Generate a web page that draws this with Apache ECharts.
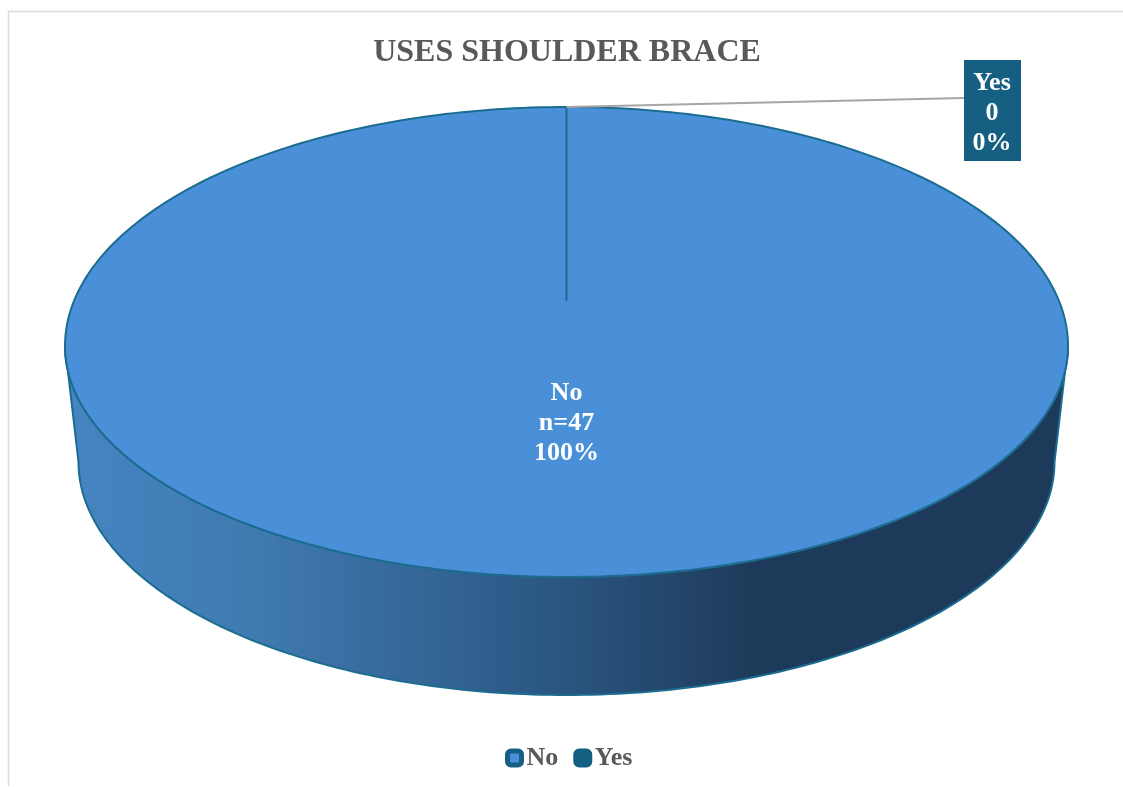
<!DOCTYPE html>
<html>
<head>
<meta charset="utf-8">
<style>html,body{margin:0;padding:0;background:#fff}#c{width:1123px;height:787px}</style>
<script src="https://cdn.jsdelivr.net/npm/echarts@6/dist/echarts.min.js"></script>
</head>
<body>
<div id="c"></div>
<script>
var categories = ['No', 'Yes'];
var counts = [47, 0];
var countLabels = ['n=47', '0'];
var sliceColors = ['#4A90D9', '#156082'];

var FONT = '"Liberation Serif","Times New Roman",serif';
var total = counts.reduce(function (a, b) { return a + b; }, 0);

// Perspective geometry of the 3D pie
var top3d = { cx: 566.5, cy: 346, rx: 501.5, ryUp: 239, ryDown: 231, apexY: 300 };
var base3d = { cx: 566.5, cy: 462, rx: 488, ry: 233 };
var STEP = Math.PI / 180;

function rim(t) {
  var c = Math.cos(t);
  return [top3d.cx + top3d.rx * Math.sin(t), top3d.cy - (c > 0 ? top3d.ryUp : top3d.ryDown) * c];
}
function arcPoints(a0, a1) {
  var pts = [];
  for (var t = a0; t < a1; t += STEP) pts.push(rim(t));
  pts.push(rim(a1));
  return pts;
}
function wallPoints(a0, a1) {
  var from = Math.max(a0, Math.PI / 2), to = Math.min(a1, Math.PI * 1.5);
  if (to <= from) return null;
  var pts = [rim(from)];
  for (var t = from; t < to; t += STEP) {
    pts.push([base3d.cx + base3d.rx * Math.sin(t), base3d.cy - base3d.ry * Math.cos(t)]);
  }
  pts.push([base3d.cx + base3d.rx * Math.sin(to), base3d.cy - base3d.ry * Math.cos(to)]);
  pts.push(rim(to));
  return pts.concat(arcPoints(from, to).reverse());
}
function startAngle(i) {
  var s = 0;
  for (var k = 0; k < i; k++) s += counts[k];
  return s / total * Math.PI * 2;
}

function renderSlice(i) {
  return function (params, api) {
    var value = api.value(0);
    var a0 = startAngle(i), a1 = a0 + value / total * Math.PI * 2;
    var children = [];
    var pct = Math.round(value / total * 100) + '%';
    var text = categories[i] + '\n' + countLabels[i] + '\n' + pct;
    if (value > 0) {
      var wall = wallPoints(a0, a1);
      if (wall) {
        children.push({
          type: 'polygon', shape: { points: wall },
          style: {
            fill: new echarts.graphic.LinearGradient(0, 0, 1, 0, [
              { offset: 0, color: '#4685C2' },
              { offset: 0.2, color: '#3F79AF' },
              { offset: 0.5, color: '#2A5580' },
              { offset: 0.69, color: '#1E3A5A' },
              { offset: 1, color: '#1E3A5A' }
            ]),
            stroke: '#1B6C90', lineWidth: 2, lineJoin: 'round'
          }
        });
      }
      var apex = [top3d.cx, top3d.apexY];
      children.push({
        type: 'polygon',
        shape: { points: [apex].concat(arcPoints(a0, a1)) },
        style: { fill: sliceColors[i], stroke: '#1B6C90', lineWidth: 2, lineJoin: 'round' }
      });
      children.push({
        type: 'text',
        style: {
          text: text, x: top3d.cx, y: 423, fill: '#fff', textAlign: 'center', textVerticalAlign: 'middle',
          font: 'bold 26px ' + FONT, lineHeight: 30
        }
      });
    } else {
      var anchor = rim(a0);
      children.push({
        type: 'line',
        shape: { x1: anchor[0], y1: anchor[1], x2: 964, y2: 98 },
        style: { stroke: '#A6A6A6', lineWidth: 2 }
      });
      children.push({
        type: 'rect', shape: { x: 964, y: 60, width: 57, height: 101 },
        style: { fill: sliceColors[i] }
      });
      children.push({
        type: 'text',
        style: {
          text: text, x: 992, y: 113, fill: '#fff', textAlign: 'center', textVerticalAlign: 'middle',
          font: 'bold 26px ' + FONT, lineHeight: 30
        }
      });
    }
    return { type: 'group', children: children };
  };
}

var chart = echarts.init(document.getElementById('c'), null, { renderer: 'canvas' });
chart.setOption({
  animation: false,
  backgroundColor: '#fff',
  title: {
    text: 'USES SHOULDER BRACE', left: 562, top: 32, textAlign: 'center',
    textStyle: { fontFamily: FONT, fontSize: 32, fontWeight: 'bold', color: '#595959' }
  },
  legend: {
    left: 505, top: 745, padding: 0, itemWidth: 14, itemHeight: 14, itemGap: 15,
    textStyle: { fontFamily: FONT, fontSize: 26, fontWeight: 'bold', color: '#595959' },
    data: [
      { name: categories[0], icon: 'roundRect', itemStyle: { color: sliceColors[0], borderColor: sliceColors[1], borderWidth: 5 } },
      { name: categories[1], icon: 'roundRect', itemStyle: { color: sliceColors[1], borderColor: sliceColors[1], borderWidth: 5 } }
    ]
  },
  graphic: [
    { type: 'polyline', silent: true, shape: { points: [[8.5, 786], [8.5, 11.5], [1123, 11.5]] }, style: { fill: null, stroke: '#D9D9D9', lineWidth: 1.5 }, z: -1 }
  ],
  series: categories.map(function (name, i) {
    return {
      type: 'custom', name: name, coordinateSystem: 'none', silent: true,
      itemStyle: { color: sliceColors[i] },
      renderItem: renderSlice(i),
      encode: { value: 0 },
      data: [[counts[i]]]
    };
  })
});
</script>
</body>
</html>
